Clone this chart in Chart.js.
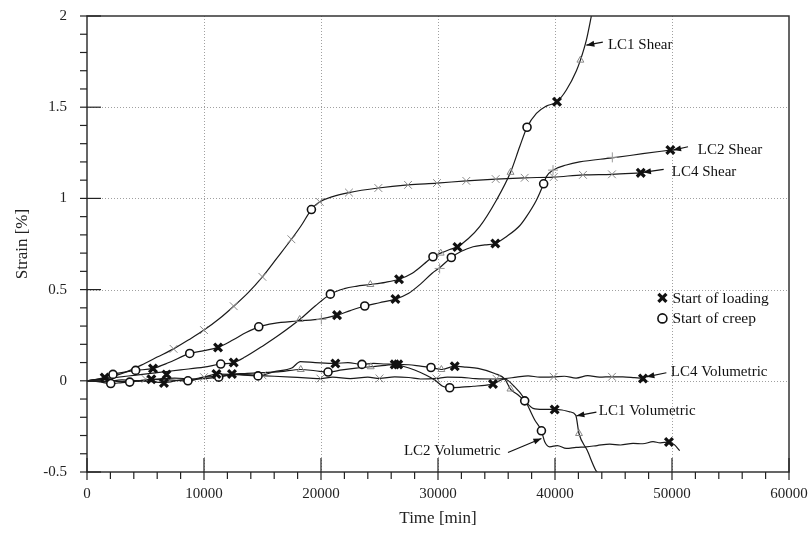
<!DOCTYPE html>
<html>
<head>
<meta charset="utf-8">
<script src="https://cdn.jsdelivr.net/npm/chart.js@4.4.0/dist/chart.umd.min.js"></script>
<style>
  html, body { margin: 0; padding: 0; background: #fff; }
  #wrap { width: 811px; height: 535px; }
</style>
</head>
<body>
<div id="wrap"><canvas id="grafico" width="811" height="535"></canvas></div>
<script>
// Strain vs time (time in min, strain in %)
const xTickVals = [0, 10000, 20000, 30000, 40000, 50000, 60000];
const yTickVals = [-0.5, 0, 0.5, 1, 1.5, 2];

// LC1
const lc1ShearT = [0, 2000, 4000, 6000, 8000, 10000, 11430, 12540, 13500, 15000, 16500, 18180, 19500, 20800, 22000, 23000, 24220, 25500, 26670, 27800, 28800, 29570, 30230, 31000, 31660, 32600, 33560, 34990, 36200, 36980, 37610, 38410, 39260, 40170, 40970, 41830, 42170, 42680, 43110];
const lc1ShearS = [0, 0.015, 0.03, 0.045, 0.06, 0.075, 0.092, 0.10, 0.13, 0.19, 0.255, 0.336, 0.41, 0.475, 0.505, 0.518, 0.528, 0.54, 0.557, 0.59, 0.64, 0.68, 0.70, 0.72, 0.735, 0.78, 0.845, 0.99, 1.143, 1.283, 1.39, 1.466, 1.506, 1.53, 1.594, 1.70, 1.758, 1.868, 2.0];
const lc1VolT = [0, 1500, 3000, 4500, 6600, 8000, 9500, 11260, 12390, 13500, 15000, 16500, 18270, 19500, 20600, 21800, 23000, 24250, 25500, 26500, 27500, 28500, 29400, 30290, 31430, 32400, 33420, 34850, 35700, 36190, 36800, 37410, 38120, 38970, 39970, 40600, 41260, 41770, 42050, 42740, 43480, 43600];
const lc1VolS = [0, 0.005, -0.005, 0.0, -0.01, 0.005, 0.01, 0.02, 0.037, 0.04, 0.045, 0.05, 0.062, 0.055, 0.048, 0.06, 0.07, 0.077, 0.085, 0.09, 0.088, 0.08, 0.073, 0.062, 0.08, 0.075, 0.068, 0.04, 0.01, -0.045, -0.075, -0.11, -0.151, -0.157, -0.157, -0.16, -0.17, -0.188, -0.289, -0.38, -0.49, -0.5];
const lc1MarkT = [18180, 24220, 30230, 36200, 42170, 18270, 24250, 30290, 36190, 42050];
const lc1MarkS = [0.336, 0.528, 0.70, 1.143, 1.758, 0.062, 0.077, 0.062, -0.045, -0.289];

// LC2
const lc2ShearT = [0, 1000, 2220, 4160, 5640, 7000, 8780, 10000, 11200, 12500, 13600, 14680, 16000, 18000, 20000, 21370, 22500, 23740, 25000, 26360, 27500, 28500, 29500, 30140, 31140, 32000, 33000, 34000, 34900, 35840, 36980, 37560, 38410, 39030, 39250, 39830, 40970, 42100, 44870, 47500, 49860];
const lc2ShearS = [0, 0.01, 0.035, 0.057, 0.068, 0.1, 0.15, 0.165, 0.183, 0.225, 0.265, 0.296, 0.315, 0.328, 0.34, 0.36, 0.385, 0.41, 0.428, 0.448, 0.48, 0.53, 0.59, 0.62, 0.676, 0.71, 0.735, 0.745, 0.753, 0.79, 0.85, 0.90, 0.99, 1.08, 1.118, 1.155, 1.183, 1.2, 1.222, 1.245, 1.265];
const lc2VolT = [0, 1000, 2030, 3000, 3650, 4500, 5500, 7000, 8630, 10000, 11060, 12500, 14620, 16000, 17500, 18240, 19500, 21230, 22300, 23500, 24500, 25500, 26300, 27000, 28000, 29000, 29720, 30400, 31000, 32000, 33000, 34000, 34700, 35700, 36500, 37300, 38270, 38840, 39120, 39550, 40200, 40970, 41800, 42680, 43600, 44680, 45600, 46670, 47500, 48380, 49000, 49740, 50200, 50660];
const lc2VolS = [0, -0.005, -0.015, -0.01, -0.007, 0.0, 0.008, 0.005, 0.0, 0.02, 0.037, 0.035, 0.027, 0.05, 0.07, 0.105, 0.1, 0.095, 0.1, 0.09, 0.095, 0.092, 0.09, 0.08, 0.059, 0.03, 0.004, -0.03, -0.038, -0.035, -0.03, -0.025, -0.018, 0.01, -0.03, -0.09, -0.215, -0.274, -0.334, -0.362, -0.355, -0.371, -0.365, -0.362, -0.355, -0.347, -0.352, -0.343, -0.345, -0.334, -0.34, -0.336, -0.35, -0.383];
const lc2MarkT = [20030, 30140, 39830, 44900];
const lc2MarkS = [0.337, 0.616, 1.155, 1.225];

// LC4
const lc4ShearT = [0, 1500, 3000, 4930, 6000, 7400, 8700, 10000, 11300, 12540, 13800, 14990, 16200, 17470, 18300, 19180, 19890, 21000, 22390, 24900, 27440, 29910, 32420, 34930, 37410, 39890, 42390, 44870, 47330];
const lc4ShearS = [0, 0.015, 0.04, 0.095, 0.13, 0.175, 0.225, 0.278, 0.34, 0.409, 0.485, 0.57, 0.67, 0.776, 0.85, 0.939, 0.981, 1.01, 1.032, 1.057, 1.074, 1.084, 1.096, 1.106, 1.113, 1.117, 1.129, 1.132, 1.14];
const lc4VolT = [0, 1500, 3000, 4500, 6000, 7500, 9000, 10000, 11500, 13000, 14500, 16000, 17500, 19000, 19950, 21000, 22500, 24000, 25000, 26300, 27500, 28500, 29860, 30800, 32000, 33200, 34850, 35700, 36700, 37700, 38700, 39890, 40800, 41800, 42800, 43800, 44870, 45800, 46800, 47520];
const lc4VolS = [0, -0.005, 0.005, 0.0, 0.01, 0.015, 0.01, 0.02, 0.025, 0.035, 0.03, 0.025, 0.02, 0.015, 0.012, 0.02, 0.012, 0.02, 0.013, 0.022, 0.018, 0.01, 0.013, 0.02, 0.019, 0.012, 0.01, 0.012, 0.02, 0.027, 0.02, 0.022, 0.025, 0.015, 0.028, 0.02, 0.022, 0.022, 0.017, 0.013];
const lc4MarkT = [7400, 10000, 12540, 14990, 17470, 19890, 22390, 24900, 27440, 29910, 32420, 34930, 37410, 39890, 42390, 44870, 5000, 10000, 15000, 19950, 25000, 29860, 35000, 39890, 44870];
const lc4MarkS = [0.175, 0.278, 0.409, 0.57, 0.776, 0.981, 1.032, 1.057, 1.074, 1.084, 1.096, 1.106, 1.113, 1.117, 1.129, 1.132, 0.01, 0.02, 0.03, 0.012, 0.013, 0.013, 0.011, 0.022, 0.022];

// Start of loading / start of creep
const loadingT = [1510, 5640, 5500, 6580, 6800, 11200, 11060, 12540, 12390, 21370, 21230, 26670, 26360, 26300, 26600, 31660, 31430, 34900, 34700, 40170, 39970, 47330, 47520, 49860, 49740];
const loadingS = [0.018, 0.068, 0.008, -0.012, 0.035, 0.183, 0.037, 0.10, 0.037, 0.36, 0.095, 0.557, 0.448, 0.09, 0.09, 0.733, 0.08, 0.753, -0.018, 1.53, -0.157, 1.14, 0.013, 1.265, -0.336];
const creepT = [2220, 2030, 4160, 3650, 8780, 8630, 11430, 11260, 14680, 14620, 19180, 20800, 20600, 23740, 23500, 29570, 29400, 31140, 31000, 37610, 37410, 39030, 38840];
const creepS = [0.035, -0.015, 0.057, -0.007, 0.15, 0.0, 0.092, 0.02, 0.296, 0.027, 0.939, 0.475, 0.048, 0.41, 0.09, 0.68, 0.073, 0.676, -0.038, 1.39, -0.11, 1.08, -0.274];

// labels with arrows (data coordinates)
const notes = [
  { text: 'LC1 Shear', at: [44520, 1.84], from: [44090, 1.857], to: [42680, 1.84] },
  { text: 'LC2 Shear', at: [52200, 1.265], from: [51370, 1.283], to: [50090, 1.265] },
  { text: 'LC4 Shear', at: [49980, 1.144], from: [49290, 1.159], to: [47520, 1.143] },
  { text: 'LC4 Volumetric', at: [49890, 0.048], from: [49520, 0.044], to: [47810, 0.022] },
  { text: 'LC1 Volumetric', at: [43740, -0.166], from: [43540, -0.172], to: [41830, -0.192] },
  { text: 'LC2 Volumetric', at: [35360, -0.386], from: [35980, -0.393], to: [38840, -0.316], right: true }
];

const FONT = "'Liberation Serif', 'DejaVu Serif', serif";
const toXY = (t, s) => t.map((v, i) => ({ x: v, y: s[i] }));

function curve(t, s) {
  return {
    data: toXY(t, s),
    borderColor: '#1a1a1a',
    borderWidth: 1.2,
    pointRadius: 0,
    showLine: true,
    cubicInterpolationMode: 'monotone',
    order: 2
  };
}

function marks(t, s, style, color, radius, width, fill) {
  return {
    data: toXY(t, s),
    showLine: false,
    pointStyle: style,
    pointRadius: radius,
    pointBorderColor: color,
    pointBackgroundColor: fill,
    pointBorderWidth: width,
    order: 1
  };
}

// axis frame, dotted grid, minor/major ticks, notes and legend
const decor = {
  id: 'decor',
  beforeDatasetsDraw(chart) {
    const { ctx, chartArea: a, scales: { x, y } } = chart;
    ctx.save();
    ctx.strokeStyle = '#a0a0a0';
    ctx.lineWidth = 1;
    ctx.setLineDash([1, 2]);
    xTickVals.slice(1, -1).forEach(v => {
      const px = Math.round(x.getPixelForValue(v)) + 0.5;
      ctx.beginPath(); ctx.moveTo(px, a.top); ctx.lineTo(px, a.bottom); ctx.stroke();
    });
    yTickVals.slice(1, -1).forEach(v => {
      const py = Math.round(y.getPixelForValue(v)) + 0.5;
      ctx.beginPath(); ctx.moveTo(a.left, py); ctx.lineTo(a.right, py); ctx.stroke();
    });
    ctx.setLineDash([]);
    ctx.restore();
  },
  afterDraw(chart) {
    const { ctx, chartArea: a, scales: { x, y } } = chart;
    ctx.save();
    // frame
    ctx.strokeStyle = '#333';
    ctx.lineWidth = 1.5;
    ctx.strokeRect(a.left, a.top, a.right - a.left, a.bottom - a.top);
    // ticks
    ctx.strokeStyle = '#222';
    ctx.lineWidth = 1.2;
    for (let v = 0; v <= 60000; v += 2000) {
      const px = x.getPixelForValue(v);
      const major = v % 10000 === 0;
      ctx.beginPath();
      ctx.moveTo(px, major ? a.bottom - 14 : a.bottom);
      ctx.lineTo(px, a.bottom + (major ? 8 : 7));
      ctx.stroke();
    }
    for (let k = -5; k <= 20; k++) {
      const py = y.getPixelForValue(k / 10);
      const major = k % 5 === 0;
      ctx.beginPath();
      ctx.moveTo(a.left - 7, py);
      ctx.lineTo(major ? a.left + 14 : a.left, py);
      ctx.stroke();
    }
    // notes with arrows
    ctx.fillStyle = '#111';
    ctx.strokeStyle = '#111';
    ctx.lineWidth = 1.2;
    ctx.font = '15px ' + FONT;
    ctx.textBaseline = 'middle';
    notes.forEach(n => {
      const fx = x.getPixelForValue(n.from[0]), fy = y.getPixelForValue(n.from[1]);
      const tx = x.getPixelForValue(n.to[0]), ty = y.getPixelForValue(n.to[1]);
      ctx.beginPath(); ctx.moveTo(fx, fy); ctx.lineTo(tx, ty); ctx.stroke();
      const ang = Math.atan2(ty - fy, tx - fx);
      ctx.beginPath();
      ctx.moveTo(tx, ty);
      ctx.lineTo(tx - 8 * Math.cos(ang) + 3 * Math.sin(ang), ty - 8 * Math.sin(ang) - 3 * Math.cos(ang));
      ctx.lineTo(tx - 8 * Math.cos(ang) - 3 * Math.sin(ang), ty - 8 * Math.sin(ang) + 3 * Math.cos(ang));
      ctx.closePath();
      ctx.fill();
      ctx.textAlign = n.right ? 'right' : 'left';
      ctx.fillText(n.text, x.getPixelForValue(n.at[0]), y.getPixelForValue(n.at[1]));
    });
    // legend
    const lx = x.getPixelForValue(49180);
    const ly1 = y.getPixelForValue(0.455), ly2 = y.getPixelForValue(0.342);
    ctx.lineWidth = 3.2;
    ctx.beginPath();
    ctx.moveTo(lx - 4, ly1 - 4); ctx.lineTo(lx + 4, ly1 + 4);
    ctx.moveTo(lx + 4, ly1 - 4); ctx.lineTo(lx - 4, ly1 + 4);
    ctx.stroke();
    ctx.lineWidth = 1.6;
    ctx.beginPath(); ctx.arc(lx, ly2, 4.5, 0, Math.PI * 2); ctx.stroke();
    ctx.font = '15.5px ' + FONT;
    ctx.textAlign = 'left';
    ctx.fillText('Start of loading', lx + 10, ly1 + 1);
    ctx.fillText('Start of creep', lx + 10, ly2 + 1);
    ctx.restore();
  }
};

const ctx = document.getElementById('grafico').getContext('2d');
const chart = new Chart(ctx, {
  type: 'scatter',
  data: {
    datasets: [
      marks(loadingT, loadingS, 'crossRot', '#111', 5.5, 3.2, '#111'),
      marks(creepT, creepS, 'circle', '#111', 4, 1.6, '#fff'),
      marks(lc1MarkT, lc1MarkS, 'triangle', '#8a8a8a', 4, 1, 'rgba(0,0,0,0)'),
      marks(lc2MarkT, lc2MarkS, 'cross', '#9a9a9a', 5, 1, 'rgba(0,0,0,0)'),
      marks(lc4MarkT, lc4MarkS, 'crossRot', '#8a8a8a', 5.5, 1, 'rgba(0,0,0,0)'),
      curve(lc1ShearT, lc1ShearS),
      curve(lc2ShearT, lc2ShearS),
      curve(lc4ShearT, lc4ShearS),
      curve(lc1VolT, lc1VolS),
      curve(lc2VolT, lc2VolS),
      curve(lc4VolT, lc4VolS)
    ]
  },
  options: {
    responsive: false,
    animation: false,
    events: [],
    layout: { padding: { top: 16, right: 22, left: 0, bottom: 0 } },
    plugins: { legend: { display: false }, tooltip: { enabled: false } },
    scales: {
      x: {
        type: 'linear',
        min: 0,
        max: 60000,
        afterBuildTicks: s => { s.ticks = xTickVals.map(v => ({ value: v })); },
        afterFit: s => { s.height = 63; s.paddingLeft = 0; s.paddingRight = 0; },
        grid: { display: false },
        border: { display: false },
        ticks: { color: '#222', padding: 5, maxRotation: 0, font: { family: FONT, size: 15 }, callback: v => String(v) },
        title: { display: true, text: 'Time [min]', color: '#222', font: { family: FONT, size: 17 }, padding: { top: 2, bottom: 6 } }
      },
      y: {
        type: 'linear',
        min: -0.5,
        max: 2,
        afterBuildTicks: s => { s.ticks = yTickVals.map(v => ({ value: v })); },
        afterFit: s => { s.width = 87; s.paddingTop = 0; s.paddingBottom = 0; },
        grid: { display: false },
        border: { display: false },
        ticks: { color: '#222', padding: 12, font: { family: FONT, size: 15 }, callback: v => String(v) },
        title: { display: true, text: 'Strain [%]', color: '#222', font: { family: FONT, size: 17 }, padding: { top: 12, bottom: 0 } }
      }
    }
  },
  plugins: [decor]
});
</script>
</body>
</html>
